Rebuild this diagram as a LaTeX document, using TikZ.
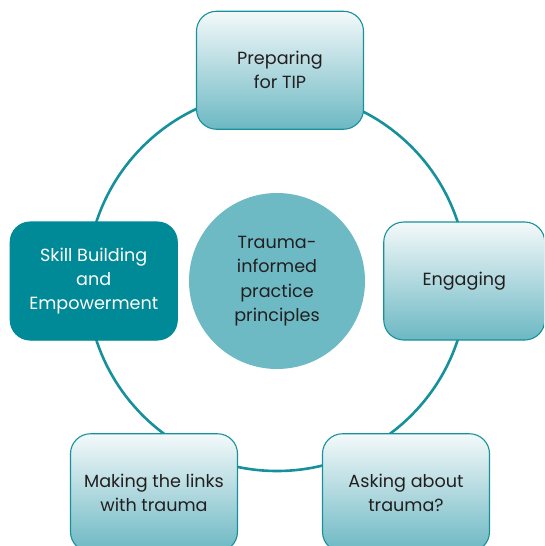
\documentclass[tikz,border=0pt]{standalone}
\usepackage{fontspec}
\setmainfont{Poppins}
\usepackage{tikz}
\usetikzlibrary{positioning}
\definecolor{tipteal}{HTML}{16919B}
\definecolor{tipdark}{HTML}{008996}
\definecolor{tipcore}{HTML}{6DBAC5}
\definecolor{tiptop}{HTML}{F4F9FA}
\definecolor{tipbottom}{HTML}{6CB8C3}
\definecolor{tiptext}{HTML}{231F20}
\tikzset{
  tipbox/.style={rectangle,rounded corners=20pt,draw=tipteal,line width=1.1pt,
    top color=tiptop,bottom color=tipbottom,minimum width=167pt,minimum height=118pt,
    align=center,text=tiptext,font=\fontsize{17.6}{24}\selectfont,inner sep=0pt},
  ring/.style={draw=tipteal,line width=2.6pt}
}
\begin{document}
\begin{tikzpicture}[x=1pt,y=1pt]
    \useasboundingbox (0,0) rectangle (544,-546);
    \clip (0,0) rectangle (544,-546);
    \node[circle,fill=tipcore,minimum size=176pt,align=center,text=tiptext,
          font=\fontsize{17.6}{24.5}\selectfont,inner sep=0pt](core) at (277,-281)
          {Trauma-\\informed\\practice\\principles};
    \draw[ring] (core.center) circle (190);
    \node[tipbox, node distance=63pt, xshift=3pt](prep)[above =of core]{Preparing\\for TIP};
    \node[tipbox, node distance=18pt, minimum width=161pt](engage)[right =of core]{Engaging};
    \node[tipbox, node distance=11pt, fill=tipdark, draw=tipdark, text=white,
          top color=tipdark, bottom color=tipdark](skill)[left =of core]{Skill Building\\and\\Empowerment};
    \node[tipbox, node distance=64pt, xshift=-123pt](links)[below =of core]{Making the links\\with trauma};
    \node[tipbox, node distance=64pt, xshift=129pt](asking)[below =of core]{Asking about\\trauma?};
\end{tikzpicture}
\end{document}
